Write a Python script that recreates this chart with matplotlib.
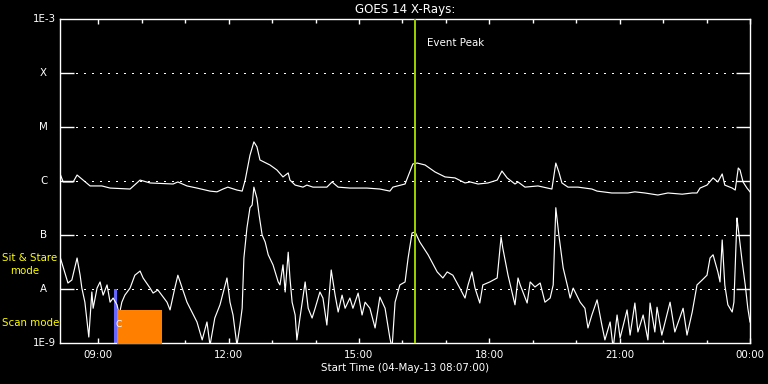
import matplotlib
matplotlib.use("Agg")
import matplotlib.pyplot as plt
import matplotlib.transforms as mtransforms

# ---------------- data ----------------
title = "GOES 14 X-Rays:"
xlabel = "Start Time (04-May-13 08:07:00)"
t_start, t_end = 8.117, 24.0          # hours (04-May-13 08:07 -> 00:00)
event_peak_hr = 16.30

# long channel (1-8 A), W/m^2
long_t = [8.12, 8.19, 8.42, 8.51, 8.81, 9.08, 9.27, 9.73, 9.96, 10.19, 10.72, 10.83,
          11.04, 11.27, 11.57, 11.73, 11.87, 11.98, 12.19, 12.31, 12.38, 12.49, 12.58,
          12.65, 12.72, 12.95, 13.11, 13.25, 13.37, 13.41, 13.53, 13.71, 13.80, 13.94,
          14.26, 14.38, 14.52, 14.79, 15.18, 15.48, 15.71, 15.78, 16.06, 16.24, 16.34,
          16.52, 16.75, 16.98, 17.21, 17.44, 17.56, 17.74, 17.97, 18.18, 18.29, 18.41,
          18.59, 18.66, 18.82, 19.12, 19.44, 19.53, 19.60, 19.67, 19.81, 20.04, 20.36,
          20.48, 20.82, 21.19, 21.35, 21.58, 21.88, 22.11, 22.44, 22.67, 22.78, 22.85,
          23.01, 23.15, 23.26, 23.36, 23.42, 23.59, 23.66, 23.73, 23.77, 23.84, 23.93, 24.00]
long_flux = [1.35e-6, 0.96e-6, 0.96e-6, 1.29e-6, 0.81e-6, 0.81e-6, 0.74e-6, 0.71e-6,
             1.04e-6, 0.92e-6, 0.88e-6, 0.96e-6, 0.81e-6, 0.74e-6, 0.65e-6, 0.63e-6,
             0.71e-6, 0.77e-6, 0.68e-6, 0.65e-6, 1.04e-6, 3.0e-6, 5.3e-6, 4.3e-6,
             2.45e-6, 1.98e-6, 1.60e-6, 1.19e-6, 1.41e-6, 1.04e-6, 0.84e-6, 0.77e-6,
             0.84e-6, 0.77e-6, 0.77e-6, 0.96e-6, 0.77e-6, 0.74e-6, 0.74e-6, 0.71e-6,
             0.65e-6, 0.77e-6, 0.88e-6, 2.07e-6, 2.15e-6, 1.98e-6, 1.47e-6, 1.19e-6,
             1.14e-6, 0.92e-6, 0.96e-6, 0.88e-6, 0.92e-6, 1.04e-6, 1.53e-6, 1.14e-6,
             0.88e-6, 0.96e-6, 0.77e-6, 0.81e-6, 0.71e-6, 2.15e-6, 1.47e-6, 0.92e-6,
             0.77e-6, 0.77e-6, 0.71e-6, 0.65e-6, 0.60e-6, 0.60e-6, 0.63e-6, 0.60e-6,
             0.55e-6, 0.60e-6, 0.57e-6, 0.60e-6, 0.60e-6, 0.74e-6, 0.84e-6, 1.14e-6,
             0.96e-6, 1.35e-6, 0.84e-6, 0.74e-6, 0.68e-6, 1.74e-6, 1.60e-6, 0.96e-6,
             0.74e-6, 0.63e-6]

# short channel (0.5-4 A), W/m^2
short_t = [8.12, 8.30, 8.39, 8.51, 8.58, 8.62, 8.69, 8.74, 8.78, 8.85, 8.88, 8.97,
           9.04, 9.11, 9.20, 9.27, 9.34, 9.43, 9.48, 9.54, 9.61, 9.73, 9.84, 9.96,
           10.03, 10.19, 10.26, 10.37, 10.49, 10.58, 10.65, 10.76, 10.83, 10.93, 11.04,
           11.27, 11.39, 11.50, 11.57, 11.68, 11.80, 11.96, 12.03, 12.10, 12.19, 12.26,
           12.31, 12.35, 12.42, 12.49, 12.54, 12.58, 12.65, 12.70, 12.77, 12.84, 12.91,
           13.02, 13.14, 13.18, 13.25, 13.30, 13.37, 13.41, 13.46, 13.53, 13.57, 13.64,
           13.76, 13.83, 13.92, 13.99, 14.10, 14.17, 14.26, 14.36, 14.45, 14.52, 14.61,
           14.68, 14.79, 14.86, 14.98, 15.07, 15.14, 15.25, 15.37, 15.48, 15.60, 15.71,
           15.76, 15.83, 15.94, 16.06, 16.13, 16.22, 16.29, 16.40, 16.59, 16.80, 16.93,
           17.03, 17.16, 17.32, 17.44, 17.51, 17.60, 17.67, 17.78, 17.85, 18.01, 18.18,
           18.27, 18.31, 18.43, 18.59, 18.66, 18.71, 18.87, 18.94, 19.05, 19.17, 19.28,
           19.40, 19.47, 19.53, 19.60, 19.70, 19.81, 19.86, 19.93, 20.09, 20.20, 20.27,
           20.36, 20.48, 20.59, 20.66, 20.78, 20.85, 20.94, 21.01, 21.17, 21.24, 21.35,
           21.42, 21.54, 21.65, 21.70, 21.81, 21.86, 21.97, 22.16, 22.27, 22.46, 22.55,
           22.67, 22.78, 22.90, 23.01, 23.08, 23.15, 23.26, 23.31, 23.36, 23.42, 23.49,
           23.59, 23.63, 23.70, 23.72, 23.82, 23.89, 23.95, 24.00]
short_flux = [3.9e-8, 1.29e-8, 1.47e-8, 3.75e-8, 1.8e-8, 1.04e-8, 5.7e-9, 2.45e-9,
              1.29e-9, 8.8e-9, 4.4e-9, 1.04e-8, 1.35e-8, 7.7e-9, 1.19e-8, 5.7e-9,
              6.8e-9, 5.1e-9, 3.3e-9, 5.7e-9, 7.7e-9, 1.04e-8, 1.8e-8, 2.15e-8,
              1.6e-8, 1.04e-8, 8.4e-9, 9.6e-9, 7.1e-9, 5.7e-9, 4.1e-9, 1.04e-8,
              1.8e-8, 1.04e-8, 5.7e-9, 2.45e-9, 1.14e-9, 2.45e-9, 0.9e-9, 2.9e-9,
              5.1e-9, 1.6e-8, 5.7e-9, 3.3e-9, 0.9e-9, 2.15e-9, 4.4e-9, 3.75e-8,
              1.35e-7, 3.2e-7, 3.6e-7, 7.7e-7, 4.8e-7, 2.35e-7, 1.0e-7, 7.4e-8,
              4.3e-8, 2.8e-8, 1.35e-8, 1.19e-8, 2.8e-8, 8.8e-9, 4.8e-8, 1.6e-8,
              5.7e-9, 3.3e-9, 1.14e-9, 2.9e-9, 1.35e-8, 4.4e-9, 2.9e-9, 4.4e-9,
              8.8e-9, 6.8e-9, 2.15e-9, 2.25e-8, 7.7e-9, 3.75e-9, 7.7e-9, 4.4e-9,
              6.8e-9, 4.4e-9, 8.4e-9, 3.3e-9, 5.7e-9, 4.4e-9, 1.9e-9, 7.1e-9,
              4.4e-9, 1.24e-9, 0.8e-9, 5.7e-9, 1.19e-8, 1.35e-8, 3.75e-8, 1.09e-7,
              1.14e-7, 7.4e-8, 4.3e-8, 2.07e-8, 1.6e-8, 2.07e-8, 1.8e-8, 1.04e-8,
              6.8e-9, 1.19e-8, 2.07e-8, 1.04e-8, 5.5e-9, 1.19e-8, 1.35e-8, 1.6e-8,
              9.2e-8, 5.7e-8, 1.8e-8, 5.1e-9, 1.6e-8, 1.19e-8, 5.5e-9, 1.35e-8,
              1.09e-8, 1.29e-8, 5.7e-9, 6.8e-9, 1.19e-8, 3.2e-7, 1.0e-7, 2.45e-8,
              1.04e-8, 6.8e-9, 1.04e-8, 5.7e-9, 4.4e-9, 1.9e-9, 3.3e-9, 6.3e-9,
              2.15e-9, 1.14e-9, 2.45e-9, 0.8e-9, 3.3e-9, 1.24e-9, 4.1e-9, 1.4e-9,
              5.5e-9, 1.6e-9, 3.3e-9, 1.14e-9, 5.5e-9, 1.6e-9, 4.6e-9, 1.4e-9,
              5.7e-9, 1.6e-9, 4.4e-9, 1.4e-9, 3.75e-9, 1.19e-8, 1.47e-8, 1.8e-8,
              3.75e-8, 4.3e-8, 2.07e-8, 1.35e-8, 8.1e-8, 1.19e-8, 5.1e-9, 3.75e-9,
              5.7e-9, 2.07e-7, 1.53e-7, 3.2e-8, 1.19e-8, 4.4e-9, 2.45e-9]

# observing-mode bars
sit_stare_span = (9.36, 9.43)
sit_stare_level = 1e-8
scan_span = (9.43, 10.46)
scan_level = 4.1e-9

class_levels = [1e-4, 1e-5, 1e-6, 1e-7, 1e-8]
class_labels = ["X", "M", "C", "B", "A"]
edge_labels = {1e-3: "1E-3", 1e-9: "1E-9"}

major_hours = [9, 12, 15, 18, 21, 24]
major_labels = ["09:00", "12:00", "15:00", "18:00", "21:00", "00:00"]
minor_hours = [10, 11, 13, 14, 16, 17, 19, 20, 22, 23]

# ---------------- figure ----------------
W, H = 768, 384
fig = plt.figure(figsize=(W / 100, H / 100), dpi=100, facecolor="black")
ax = fig.add_axes([60 / W, 1 - 343 / H, 690 / W, 324 / H], facecolor="black")
ax.set_yscale("log")
ax.set_xlim(t_start, t_end)
ax.set_ylim(1e-9, 1e-3)

fs = 7.4
px = 0.72  # one pixel in points

for s in ax.spines.values():
    s.set_color("white")
    s.set_linewidth(1.0)

# dotted class lines
for lv in class_levels:
    ax.axhline(lv, color="white", lw=1.0, linestyle=(0, (1, 5)), zorder=1,
               antialiased=False)

ax.set_yticks(class_levels)
ax.set_yticklabels([])
ax.yaxis.set_minor_locator(matplotlib.ticker.NullLocator())
ax.tick_params(axis="y", which="major", direction="in", length=14 * px, width=1.0,
               color="white", left=True, right=True)

ax.set_xticks(major_hours)
ax.set_xticklabels(major_labels)
ax.set_xticks(minor_hours, minor=True)
ax.tick_params(axis="x", which="major", direction="in", length=5 * px, width=1.0,
               color="white", top=True, bottom=True, labelcolor="white",
               labelsize=fs, pad=5)
ax.tick_params(axis="x", which="minor", direction="in", length=3.5 * px, width=1.0,
               color="white", top=True, bottom=True)
ax.set_xlabel(xlabel, color="white", fontsize=fs, labelpad=2)
ax.set_title(title, color="white", fontsize=8.6, pad=4)

# y labels
tr = mtransforms.blended_transform_factory(ax.transAxes, ax.transData)
for lv, lab in zip(class_levels, class_labels):
    ax.text((43.5 - 60) / 690, lv, lab, transform=tr, color="white", fontsize=fs,
            ha="center", va="center", clip_on=False)
for lv, lab in edge_labels.items():
    ax.text((56 - 60) / 690, lv, lab, transform=tr, color="white", fontsize=fs,
            ha="right", va="center", clip_on=False)

# mode bars
ax.fill_between(list(sit_stare_span), [1e-12, 1e-12], [sit_stare_level] * 2,
                color="#6666ff", lw=0, zorder=2)
ax.fill_between(list(scan_span), [1e-12, 1e-12], [scan_level] * 2,
                color="#ff8000", lw=0, zorder=4)

# data
ax.plot(long_t, long_flux, color="white", lw=0.85, zorder=3)
ax.plot(short_t, short_flux, color="white", lw=0.85, zorder=3)

# event peak
ax.axvline(event_peak_hr, color="#99cc00", lw=2 * px, zorder=5)
ax.annotate("Event Peak", xy=(event_peak_hr, 0.926), xycoords=("data", "axes fraction"),
            xytext=(8, 0), textcoords="offset points", color="white", fontsize=fs,
            ha="left", va="center")

# small marker glyph on scan bar
ax.text(9.47, 2.2e-9, "C", color="white", fontsize=6.5, ha="center", va="center", zorder=6)

# mode labels
fig.text(2 / W, 1 - 258 / H, "Sit & Stare", color="yellow", fontsize=fs,
         ha="left", va="center", zorder=10)
fig.text(24.5 / W, 1 - 271 / H, "mode", color="yellow", fontsize=fs,
         ha="center", va="center", zorder=10)
fig.text(2 / W, 1 - 323 / H, "Scan mode", color="yellow", fontsize=fs,
         ha="left", va="center", zorder=10)

fig.savefig("out.png", dpi=100, facecolor="black")
